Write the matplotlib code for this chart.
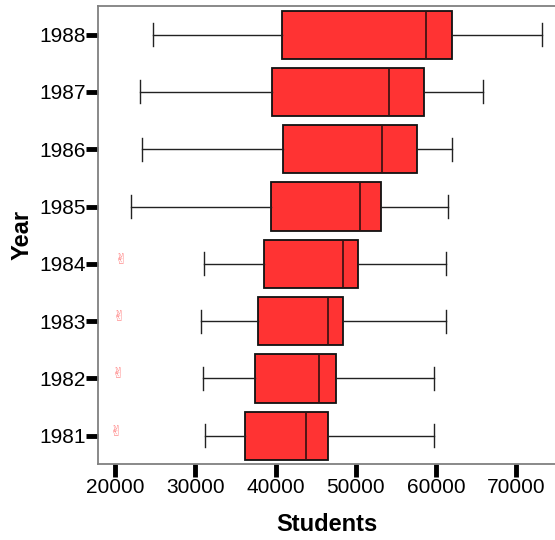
import matplotlib.pyplot as plt

plt.rcParams["font.family"] = ["Liberation Sans", "DejaVu Sans"]

# Five-number summaries per year (students)
years = ["1981", "1982", "1983", "1984", "1985", "1986", "1987", "1988"]
whis_low = [31230, 30900, 30700, 31070, 21940, 23310, 23100, 24680]
q1 = [36210, 37420, 37830, 38580, 39370, 40940, 39570, 40740]
median = [43770, 45350, 46540, 48340, 50490, 53270, 54060, 58670]
q3 = [46540, 47540, 48340, 50280, 53070, 57670, 58460, 62030]
whis_high = [59670, 59670, 61230, 61230, 61450, 61980, 65800, 73190]
outliers = [[20110], [20360], [20520], [20700], [], [], [], []]

stats = []
for i, yr in enumerate(years):
    stats.append(dict(label=yr, whislo=whis_low[i], q1=q1[i], med=median[i],
                      q3=q3[i], whishi=whis_high[i], fliers=outliers[i]))

fig = plt.figure(figsize=(5.55, 5.4), dpi=100)
ax = fig.add_axes([0.177, 0.140, 0.823, 0.849])

pos = list(range(1, len(years) + 1))
ax.bxp(stats, positions=pos, vert=False, widths=0.84, capwidths=0.4,
       patch_artist=True, showfliers=False,
       boxprops=dict(facecolor="#ff3333", edgecolor="#111111", linewidth=1.3),
       medianprops=dict(color="#331111", linewidth=1.2),
       whiskerprops=dict(color="#222222", linewidth=1.0),
       capprops=dict(color="#222222", linewidth=1.0))

# outlying points drawn as small pink glyphs
for p, pts in zip(pos, outliers):
    for v in pts:
        ax.text(v, p, "\u270c", color="#ff8080", fontsize=11, fontweight="bold",
                ha="center", va="baseline", family=["DejaVu Sans"])

ax.set_xlim(17900, 74800)
ax.set_ylim(0.5, 8.5)
ax.set_xticks([20000, 30000, 40000, 50000, 60000, 70000])
ax.set_yticks(pos)
ax.set_yticklabels(years)

for side in ["left", "bottom", "top"]:
    ax.spines[side].set_color("#808080")
    ax.spines[side].set_linewidth(1.3)
ax.spines["right"].set_visible(False)

ax.tick_params(axis="both", length=9, width=3.5, color="black",
               labelsize=15, labelcolor="black", pad=1)
ax.tick_params(axis="y", pad=0)

ax.set_xlabel("Students", fontsize=17, fontweight="bold", labelpad=11)
ax.set_ylabel("Year", fontsize=17, fontweight="bold", labelpad=4)

fig.savefig("out.png", dpi=100)
